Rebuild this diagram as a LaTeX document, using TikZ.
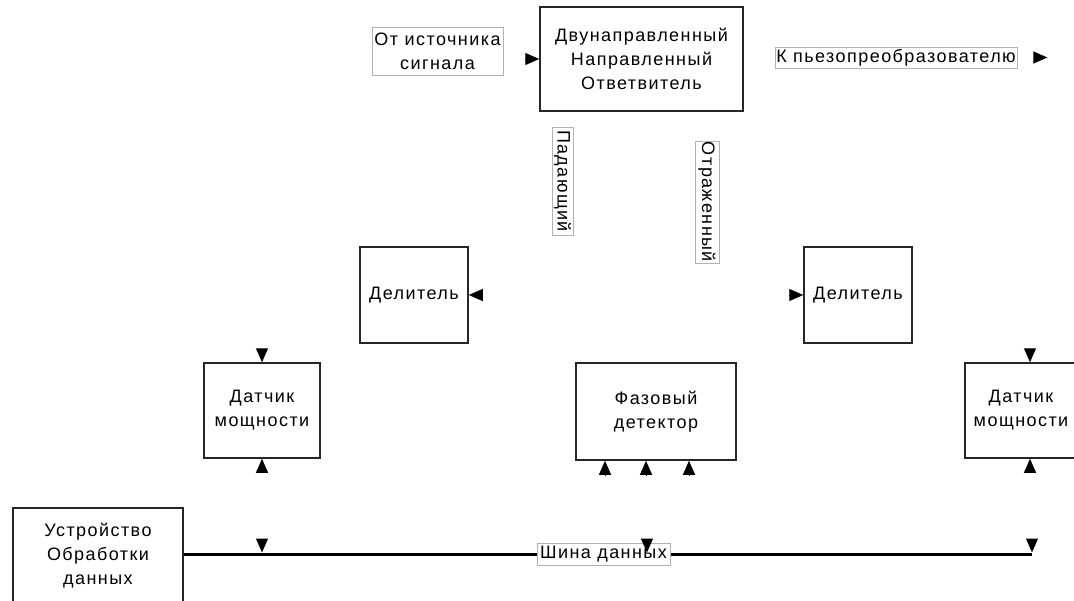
\documentclass[tikz,border=0pt]{standalone}
\usepackage{fontspec}
\setmainfont{Liberation Sans}[LetterSpace=8]
\usetikzlibrary{arrows.meta}

\tikzset{
  blok/.style={draw=black!85, line width=1.5pt, fill=white, align=center, inner sep=0pt},
  metka/.style={draw=black!30, line width=0.7pt, fill=white, align=center, inner sep=1pt},
  strelka/.style={-{Triangle[length=14pt,width=12pt]}, line width=1pt},
  shina/.style={line width=3pt}
}

\begin{document}
\begin{tikzpicture}[x=1pt, y=-1pt, font=\fontsize{18}{24}\selectfont]
    \useasboundingbox (0,0) rectangle (1074,600);

    \node [blok, minimum width=203pt, minimum height=104pt] (dno) at (641.5,59) {Двунаправленный\\Направленный\\Ответвитель};
    \node [metka, minimum width=131pt, minimum height=48pt] (ist) at (437.5,51) {От источника\\сигнала};
    \node [metka, minimum width=242pt, minimum height=21pt] (pz) at (896,57.5) {К пьезопреобразователю};

    \node [metka, rotate=-90, minimum width=108pt, minimum height=21pt] (pad) at (562.5,181) {Падающий};
    \node [metka, rotate=-90, minimum width=120pt, minimum height=24pt] (otr) at (707,202) {Отраженный};

    \node [blok, minimum width=108pt, minimum height=96pt] (del1) at (414,295) {Делитель};
    \node [blok, minimum width=108pt, minimum height=96pt] (del2) at (858,295) {Делитель};

    \node [blok, minimum width=116pt, minimum height=95pt] (dat1) at (262,410.5) {Датчик\\мощности};
    \node [blok, minimum width=160pt, minimum height=97pt] (fd) at (656,411.5) {Фазовый\\детектор};
    \node [blok, minimum width=112pt, minimum height=95pt] (dat2) at (1021,410.5) {Датчик\\мощности};

    \node [blok, minimum width=170pt, minimum height=96pt] (uod) at (98,556) {Устройство\\Обработки\\данных};

    % шина данных
    \coordinate (konec) at (1032,554);
    \draw [shina] (uod.east |- konec) -- (konec);
    \node [metka, minimum width=133pt, minimum height=22pt] (shd) at (603.5,554) {Шина данных};
    \foreach \x in {262, 647, 1032} {
      \coordinate (otvod) at (\x,554);
      \draw [strelka] ([yshift=15pt]otvod) -- ([yshift=1.5pt]otvod);
    }

    % стрелки у блоков
    \draw [strelka] ([xshift=-14pt]dno.west) -- (dno.west);
    \draw [strelka] ([xshift=17pt]pz.east) -- ([xshift=30pt]pz.east);
    \draw [strelka] ([xshift=13pt]del1.east) -- (del1.east);
    \draw [strelka] ([xshift=-14pt]del2.west) -- (del2.west);
    \foreach \b/\dx in {dat1/0, dat2/9} {
      \draw [strelka] ([xshift=\dx pt, yshift=13pt]\b.north) -- ([xshift=\dx pt]\b.north);
      \draw [strelka] ([xshift=\dx pt, yshift=-13pt]\b.south) -- ([xshift=\dx pt]\b.south);
    }
    \foreach \dx in {-51, -10, 33} {
      \draw [strelka] ([xshift=\dx pt, yshift=-14pt]fd.south) -- ([xshift=\dx pt]fd.south);
    }
  \end{tikzpicture}
\end{document}
